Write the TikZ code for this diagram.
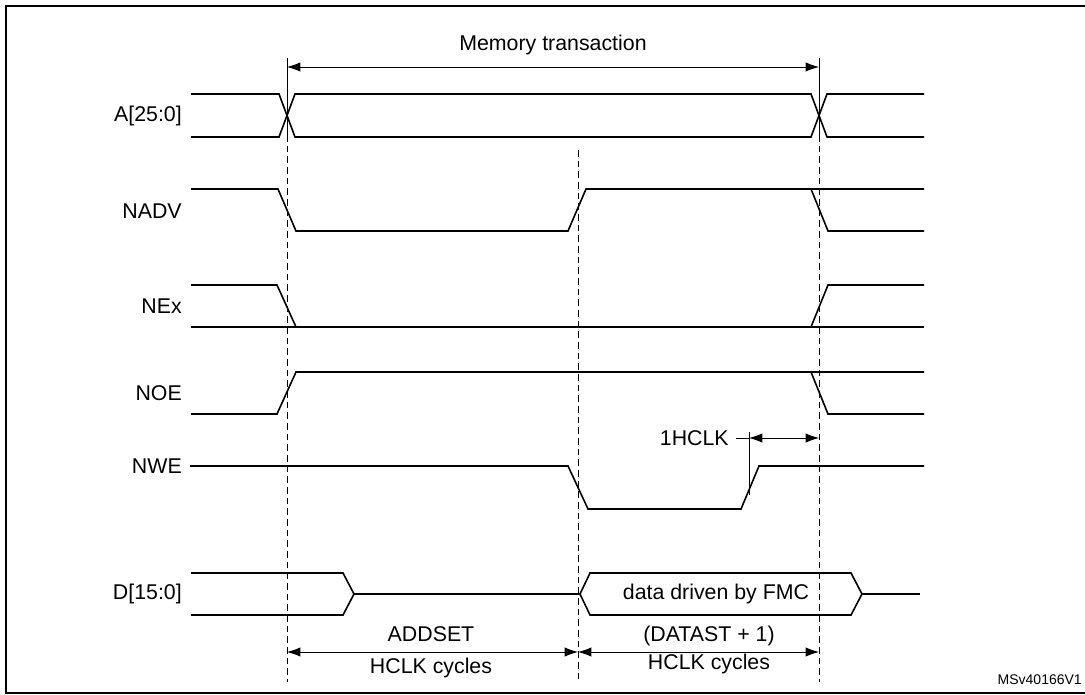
\documentclass[tikz,border=0pt]{standalone}
\usepackage{fontspec}
\setmainfont{Liberation Sans}
\usetikzlibrary{arrows.meta}
\begin{document}
\begin{tikzpicture}[x=0.75pt,y=-0.75pt,
  sig/.style={line width=1.2pt},
  guide/.style={line width=0.6pt, dash pattern=on 5pt off 3pt},
  dim/.style={line width=0.6pt,{Latex[length=10pt,width=7pt]}-{Latex[length=10pt,width=7pt]}},
  lbl/.style={font=\fontsize{16}{18}\selectfont, inner sep=0pt},
  every node/.style={lbl}]
\useasboundingbox (0,0) rectangle (1085,695);
\draw[line width=1.5pt] (6,6) rectangle (1090,693);
% guides
\coordinate (g1t) at (287,58); \coordinate (g1b) at (287,682);
\coordinate (g2t) at (578,150); \coordinate (g2b) at (578,682);
\coordinate (g3t) at (819,58); \coordinate (g3b) at (819,682);
\draw[line width=0.6pt] (g1t) -- (287,135);
\draw[line width=0.6pt] (g3t) -- (819,135);
\draw[guide] (287,135) -- (g1b);
\draw[guide] (g2t) -- (g2b);
\draw[guide] (819,135) -- (g3b);
% memory transaction
\node (mt) at (553,45) {Memory transaction};
\coordinate (m1) at (287,67); \coordinate (m2) at (819,67);
\draw[dim] (m1) -- (m2);
% labels
\node[anchor=east] (la) at (182,116) {A[25:0]};
\node[anchor=east] (lb) at (182,211) {NADV};
\node[anchor=east] (lc) at (182,306) {NEx};
\node[anchor=east] (ld) at (182,393) {NOE};
\node[anchor=east] (le) at (182,466) {NWE};
\node[anchor=east] (lf) at (182,594) {D[15:0]};
% A
\draw[sig] (191,94) -- (279,94) -- (295,137) -- (811,137) -- (827,94) -- (924,94);
\draw[sig] (191,137) -- (279,137) -- (295,94) -- (811,94) -- (827,137) -- (924,137);
% NADV
\draw[sig] (191,189) -- (278,189) -- (296,231) -- (568,231) -- (586,189) -- (924,189);
\draw[sig] (811,189) -- (828,231) -- (924,231);
% NEx
\draw[sig] (191,285) -- (277,285) -- (296,327);
\draw[sig] (191,327) -- (924,327);
\draw[sig] (811,327) -- (828,285) -- (924,285);
% NOE
\draw[sig] (191,414) -- (277,414) -- (296,372) -- (924,372);
\draw[sig] (811,372) -- (828,414) -- (924,414);
% NWE
\draw[sig] (190,466) -- (568,466) -- (588,509) -- (741,509) -- (759,466) -- (924,466);
\node[anchor=east] (hc) at (729,438) {1HCLK};
\coordinate (t1) at (749,432); \coordinate (t2) at (749,495);
\draw[line width=0.6pt] (t1) -- (t2);
\draw[line width=0.6pt] (736,438) -- (749,438);
\draw[dim] (749,438) -- (819,438);
% D
\draw[sig] (191,573) -- (343,573) -- (354,594) -- (343,615) -- (191,615);
\draw[sig] (354,594) -- (580,594);
\draw[sig] (580,594) -- (590,573) -- (851,573) -- (862,594) -- (851,615) -- (590,615) -- cycle;
\draw[sig] (862,594) -- (920,594);
\node (dd) at (716,594) {data driven by FMC};
% bottom dims
\draw[dim] (287,652) -- (578,652);
\draw[dim] (578,652) -- (819,652);
\node (ad) at (431,634) {ADDSET};
\node (ah) at (431,668) {HCLK cycles};
\node (da) at (709,636) {(DATAST + 1)};
\node (dh) at (709,664) {HCLK cycles};
\node[anchor=east,font=\fontsize{10.5}{12}\selectfont] (ms) at (1082,680) {MSv40166V1};
\end{tikzpicture}
\end{document}
